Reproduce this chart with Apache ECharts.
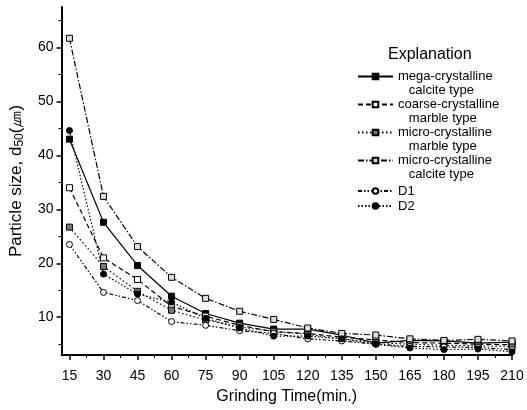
<!DOCTYPE html>
<html>
<head>
    <meta charset="UTF-8">
    <title>Grinding time vs particle size</title>
    <script src="https://cdn.jsdelivr.net/npm/echarts@6/dist/echarts.min.js"></script>
</head>
<body style="margin:0;">
    <div id="chart" style="width:527px; height:410px;"></div>

    <script>
        // grinding time (min.)
        var times = [15, 30, 45, 60, 75, 90, 105, 120, 135, 150, 165, 180, 195, 210];
        var minorX = [22.5, 37.5, 52.5, 67.5, 82.5, 97.5, 112.5, 127.5, 142.5, 157.5, 172.5, 187.5, 202.5];
        var yTicks = [10, 20, 30, 40, 50, 60];
        var minorY = [5, 15, 25, 35, 45, 55, 65];

        // d50 values
        var megaCalcite   = [43.0, 27.6, 19.6, 13.9, 10.7, 8.9, 7.8, 7.8, 6.7, 5.2, 5.7, 5.6, 5.2, 5.4];
        var coarseMarble  = [34.0, 21.0, 17.0, 12.0, 10.2, 8.5, 7.3, 7.0, 6.3, 5.8, 5.3, 5.2, 5.0, 4.9];
        var microMarble   = [26.7, 19.4, 14.8, 11.3, 9.5, 8.2, 7.4, 6.8, 6.0, 5.3, 5.0, 4.8, 4.7, 4.6];
        var microCalcite  = [61.7, 32.4, 23.1, 17.4, 13.5, 11.1, 9.6, 8.0, 7.0, 6.7, 6.0, 5.7, 5.9, 5.6];
        var d1            = [23.5, 14.6, 13.1, 9.2, 8.5, 7.5, 7.0, 6.0, 5.6, 5.0, 4.6, 4.5, 4.4, 4.0];
        var d2            = [44.6, 18.0, 14.3, 12.8, 9.8, 8.0, 6.5, 6.5, 6.0, 5.0, 4.3, 4.0, 4.1, 3.6];

        var names = ['mega-crystalline', 'coarse-crystalline', 'micro-crystalline ', 'micro-crystalline', 'D1', 'D2'];
        var secondLines = {
            'mega-crystalline': 'calcite type',
            'coarse-crystalline': 'marble type',
            'micro-crystalline ': 'marble type',
            'micro-crystalline': 'calcite type'
        };

        function pairs(vals) {
            return times.map(function (t, i) { return [t, vals[i]]; });
        }

        function mkSeries(name, vals, dash, symbol, fill) {
            return {
                name: name,
                type: 'line',
                data: pairs(vals),
                symbol: symbol,
                symbolSize: 6,
                showSymbol: true,
                lineStyle: { color: '#000', width: 1.2, type: dash },
                itemStyle: { color: fill, borderColor: '#000', borderWidth: 1 },
                emphasis: { disabled: true },
                animation: false
            };
        }

        var chart = echarts.init(document.getElementById('chart'), null, {renderer: 'canvas'});

        var font = 'Liberation Sans, Arial, sans-serif';
        var legendText = { fontFamily: font, fontSize: 13, color: '#000', lineHeight: 14 };

        var option = {
            backgroundColor: '#fff',
            animation: false,
            title: {
                text: 'Explanation',
                left: 383,
                top: 42,
                textStyle: { fontFamily: font, fontSize: 16, fontWeight: 'normal', color: '#000' }
            },
            legend: [{
                data: names.slice(0, 4),
                orient: 'vertical',
                left: 352,
                top: 51,
                itemWidth: 35,
                itemHeight: 7,
                itemGap: -13,
                selectedMode: false,
                formatter: function (n) {
                    return '{pad| }\n{a|' + n + '}\n{b|   ' + secondLines[n] + '}';
                },
                textStyle: {
                    fontFamily: font, fontSize: 13, color: '#000',
                    rich: {
                        pad: { fontSize: 13, lineHeight: 14 },
                        a: legendText,
                        b: legendText
                    }
                }
            }, {
                data: names.slice(4),
                orient: 'vertical',
                left: 352,
                top: 179,
                itemWidth: 35,
                itemHeight: 7,
                itemGap: 1,
                selectedMode: false,
                textStyle: legendText
            }],
            grid: { left: 57, right: 15, top: 7, bottom: 55, containLabel: false },
            xAxis: [{
                type: 'value',
                min: 11.5,
                max: 210,
                name: 'Grinding Time(min.)',
                nameLocation: 'middle',
                nameGap: 34,
                nameTextStyle: { fontFamily: font, fontSize: 16, color: '#000' },
                axisLine: { lineStyle: { color: '#000', width: 2 } },
                axisTick: { customValues: times, length: 5, lineStyle: { color: '#000', width: 1.5 } },
                axisLabel: { customValues: times, margin: 14, fontFamily: font, fontSize: 14, color: '#000' },
                splitLine: { show: false }
            }, {
                type: 'value',
                min: 11.5,
                max: 210,
                position: 'bottom',
                axisLine: { show: false },
                axisTick: { customValues: minorX, length: 3, lineStyle: { color: '#000', width: 1 } },
                axisLabel: { show: false },
                splitLine: { show: false }
            }],
            yAxis: [{
                type: 'value',
                min: 3,
                max: 67.5,
                name: 'Particle size, d{sub|50}(㎛)',
                nameLocation: 'middle',
                nameGap: 36,
                nameRotate: 90,
                nameTextStyle: {
                    fontFamily: font, fontSize: 17, color: '#000',
                    rich: { sub: { fontFamily: font, fontSize: 12, color: '#000', padding: [6, 0, 0, 0] } }
                },
                axisLine: { show: true, lineStyle: { color: '#000', width: 2 } },
                axisTick: { show: true, customValues: yTicks, length: 5, lineStyle: { color: '#000', width: 1.5 } },
                axisLabel: { customValues: yTicks, margin: 8, fontFamily: font, fontSize: 14, color: '#000' },
                splitLine: { show: false }
            }, {
                type: 'value',
                min: 3,
                max: 67.5,
                position: 'left',
                axisLine: { show: false },
                axisTick: { show: true, customValues: minorY, length: 3, lineStyle: { color: '#000', width: 1 } },
                axisLabel: { show: false },
                splitLine: { show: false }
            }],
            series: [
                mkSeries(names[0], megaCalcite, 'solid', 'rect', '#000'),
                mkSeries(names[1], coarseMarble, [5, 3], 'rect', '#fff'),
                mkSeries(names[2], microMarble, [1.5, 2.5], 'rect', '#777'),
                mkSeries(names[3], microCalcite, [6, 2, 1.5, 2], 'rect', '#ddd'),
                mkSeries(names[4], d1, [4, 2, 1.5, 2, 1.5, 2], 'circle', '#fff'),
                mkSeries(names[5], d2, [1.5, 2], 'circle', '#000')
            ]
        };

        chart.setOption(option);
    </script>
</body>
</html>
